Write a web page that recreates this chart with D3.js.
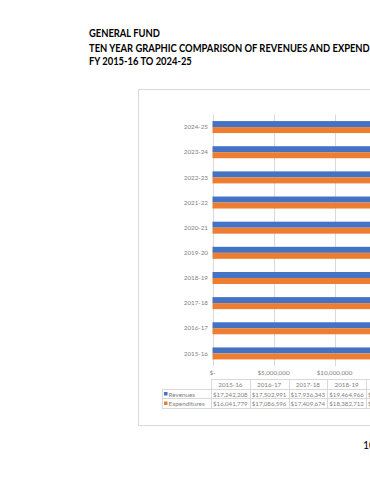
<!DOCTYPE html>
<html><head><meta charset="utf-8">
<script src="https://cdn.jsdelivr.net/npm/d3@7/dist/d3.min.js"></script>
<style>html,body{margin:0;padding:0;background:#fff;overflow:hidden;}svg{display:block;}</style>
</head><body>
<script>
const titleLines = ["GENERAL FUND", "TEN YEAR GRAPHIC COMPARISON OF REVENUES AND EXPENDITURES", "FY 2015-16 TO 2024-25"];
const years = ["2015-16","2016-17","2017-18","2018-19","2019-20","2020-21","2021-22","2022-23","2023-24","2024-25"];
const revenues = [17242208,17502991,17936343,19464966,20153410,20871250,23452880,25610340,26982150,27455600];
const expenditures = [16041779,17086596,17409674,18382712,19620480,19951730,21304560,23902110,25813940,27201300];
const seriesNames = ["Revenues","Expenditures"];
const colors = ["#4472C4","#ED7D31"];
const tickValues = [0,5000000,10000000,15000000,20000000,25000000,30000000,35000000];
const pageNumber = "10";

const W = 370, H = 480;
const svg = d3.select("body").append("svg").attr("width", W).attr("height", H);

// Title (Calibri-like narrow bold: Lato bold compressed horizontally)
const tfont = "Lato, 'Liberation Sans', sans-serif";
const tl = svg.append("g");
const ty = [37.5, 52, 65.5];
const probe = tl.append("text").attr("font-family",tfont).attr("font-weight","bold").attr("font-size",10.4)
  .text("TEN YEAR GRAPHIC COMPARISON OF REVENUES AND EXPEND");
const pw = probe.node().getComputedTextLength();
probe.remove();
const sx = 281 / pw;
tl.attr("transform",`translate(89,0) scale(${sx},1)`);
titleLines.forEach((t,i)=>{
  tl.append("text").attr("x",0).attr("y",ty[i]).text(t)
    .attr("font-family",tfont).attr("font-weight","bold").attr("font-size",10.4).attr("fill","#000");
});

// chart box
svg.append("rect").attr("x",138.5).attr("y",89.5).attr("width",700).attr("height",336)
  .attr("fill","#fff").attr("stroke","#d9d9d9").attr("stroke-width",1);

const left = 212.5;
const x = d3.scaleLinear().domain([0,35000000]).range([left, left + 61*7]);
const y = d3.scaleBand().domain(years.slice().reverse()).range([114.5, 366]);
const inner = d3.scaleBand().domain(seriesNames).range([0,12]);

const gf = "Lato, 'Open Sans', sans-serif";
const txtCol = "#7f7f7f";

// gridlines
svg.append("g").selectAll("line").data(tickValues).join("line")
  .attr("x1",d=>Math.round(x(d))+0.5).attr("x2",d=>Math.round(x(d))+0.5)
  .attr("y1",114.5).attr("y2",366).attr("stroke","#d9d9d9").attr("stroke-width",1);

// bars
const data = years.map((yr,i)=>({yr, vals:[revenues[i],expenditures[i]]}));
const groups = svg.append("g").selectAll("g").data(data).join("g")
  .attr("transform",d=>`translate(0,${y(d.yr)+y.bandwidth()/2-6})`);
groups.selectAll("rect").data(d=>d.vals.map((v,j)=>({v,s:seriesNames[j],j}))).join("rect")
  .attr("x",x(0)).attr("y",d=>inner(d.s)).attr("height",inner.bandwidth())
  .attr("width",d=>x(d.v)-x(0)).attr("fill",d=>colors[d.j]);

// category labels
svg.append("g").selectAll("text").data(years).join("text")
  .attr("x",208).attr("y",d=>y(d)+y.bandwidth()/2+2.2).attr("text-anchor","end")
  .attr("font-family",gf).attr("font-size",6.3).attr("fill",txtCol).text(d=>d);

// value axis labels
const fmt = d=> d===0 ? "$-" : "$" + d3.format(",")(d);
svg.append("g").selectAll("text").data(tickValues).join("text")
  .attr("x",d=>x(d)).attr("y",375).attr("text-anchor","middle")
  .attr("font-family",gf).attr("font-size",6.3).attr("fill",txtCol).text(fmt);

// data table
const colX = d3.scaleBand().domain(years).range([211, 211 + 38.75*10]);
const rowY = [379.5, 389.5, 398.5, 408.5];
const tg = svg.append("g");
const lineCol = "#d9d9d9";
tg.append("line").attr("x1",211).attr("x2",colX.range()[1]).attr("y1",rowY[0]).attr("y2",rowY[0]).attr("stroke",lineCol);
[1,2,3].forEach(k=>{
  tg.append("line").attr("x1",162).attr("x2",colX.range()[1]).attr("y1",rowY[k]).attr("y2",rowY[k]).attr("stroke",lineCol);
});
years.forEach(yr=>{
  const xx = Math.round(colX(yr))+0.5;
  tg.append("line").attr("x1",xx).attr("x2",xx).attr("y1",rowY[0]).attr("y2",rowY[3]).attr("stroke",lineCol);
});
tg.append("line").attr("x1",162.5).attr("x2",162.5).attr("y1",rowY[1]).attr("y2",rowY[3]).attr("stroke",lineCol);
tg.selectAll("text.h").data(years).join("text").attr("class","h")
  .attr("x",d=>colX(d)+colX.bandwidth()/2).attr("y",387).attr("text-anchor","middle")
  .attr("font-family",gf).attr("font-size",6.3).attr("fill",txtCol).text(d=>d);
const rows = [revenues, expenditures];
rows.forEach((arr,k)=>{
  const yy = [396.5, 406][k];
  tg.selectAll("text.r"+k).data(arr).join("text").attr("class","r"+k)
    .attr("x",(d,i)=>colX(years[i])+colX.bandwidth()/2).attr("y",yy).attr("text-anchor","middle")
    .attr("font-family",gf).attr("font-size",6.1).attr("fill",txtCol).text(d=>"$"+d3.format(",")(d));
  tg.append("rect").attr("x",164).attr("y",yy-4.5).attr("width",3.5).attr("height",3.5).attr("fill",colors[k]);
  tg.append("text").attr("x",168.5).attr("y",yy).attr("font-family",gf).attr("font-size",6.3)
    .attr("fill",txtCol).text(seriesNames[k]);
});

// page number
svg.append("text").attr("x",363).attr("y",449).attr("font-family",tfont).attr("font-size",10.5)
  .attr("fill","#000").text(pageNumber);
</script>
</body></html>
